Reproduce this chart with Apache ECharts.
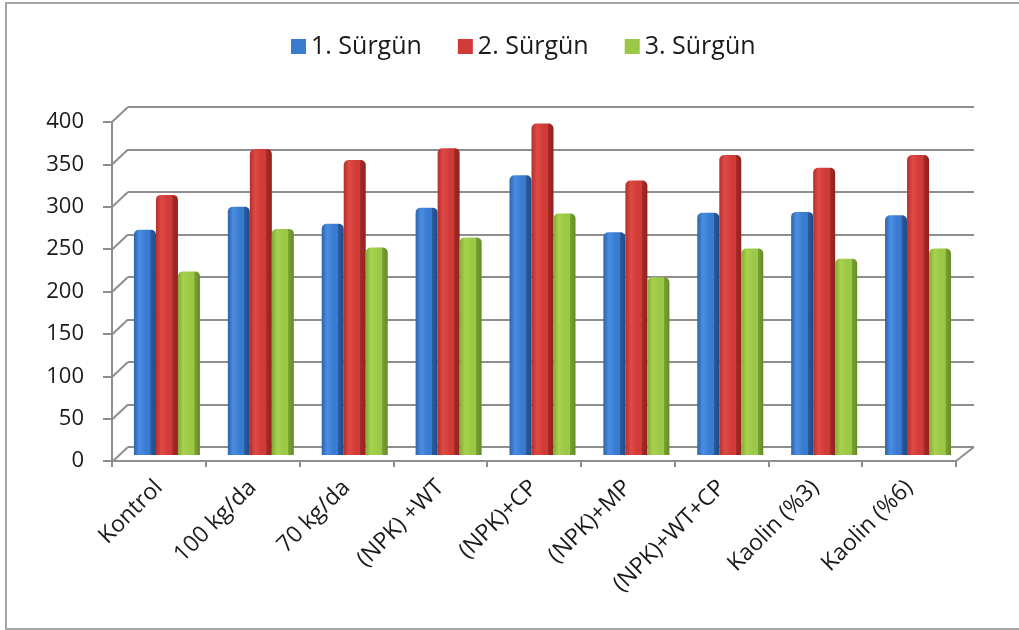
<!DOCTYPE html>
<html>
<head>
<meta charset="utf-8">
<script src="https://cdn.jsdelivr.net/npm/echarts@6/dist/echarts.min.js"></script>
<style>
  html, body { margin: 0; padding: 0; background: #fff; }
  #chart { width: 1019px; height: 630px; }
</style>
</head>
<body>
<div id="chart"></div>
<script>
const categories = ['Kontrol', '100 kg/da', '70 kg/da', '(NPK) +WT', '(NPK)+CP', '(NPK)+MP', '(NPK)+WT+CP', 'Kaolin (%3)', 'Kaolin (%6)']
const seriesNames = ['1. Sürgün', '2. Sürgün', '3. Sürgün']
const surgun1 = [265, 292, 272, 291, 329, 262, 285, 286, 282]
const surgun2 = [306, 360, 347, 361, 390, 323, 353, 338, 353]
const surgun3 = [216, 266, 244, 256, 284, 209, 243, 231, 243]
const yTicks = [0, 50, 100, 150, 200, 250, 300, 350, 400]

const FONT = '"Open Sans", "Liberation Sans", sans-serif'
const GRID_GRAY = '#8e8e8e'

// front face light in the middle, darker side face on the right
const barFill = (edge, light, base, side, sideDark) =>
  new echarts.graphic.LinearGradient(0, 0, 1, 0, [
    { offset: 0, color: edge },
    { offset: 0.25, color: light },
    { offset: 0.55, color: base },
    { offset: 0.74, color: base },
    { offset: 0.76, color: side },
    { offset: 1, color: sideDark },
  ])

const fills = [
  barFill('#2d63ad', '#4a8ee2', '#3a7bd2', '#2a5b9f', '#214a85'),
  barFill('#b52f2c', '#df4a45', '#d13b37', '#a82a27', '#8f2220'),
  barFill('#82ab35', '#a8d24f', '#9bc846', '#7aa232', '#658a27'),
]
const legendColors = ['#3a7bd2', '#d13b37', '#9bc846']
const seriesData = [surgun1, surgun2, surgun3]

const chart = echarts.init(document.getElementById('chart'))

// the 3D look: back wall (grid 0), bars at mid depth (grid 1), front axes (grid 2)
const option = {
  animation: false,
  textStyle: { fontFamily: FONT },
  graphic: [
    {
      type: 'rect',
      shape: { x: 6, y: 3, width: 1030, height: 626 },
      style: { fill: 'none', stroke: '#a6a6a6', lineWidth: 2 },
      silent: true,
    },
  ],
  legend: {
    left: 286,
    top: 29,
    itemWidth: 15,
    itemHeight: 15,
    itemGap: 36,
    textStyle: { fontFamily: FONT, fontSize: 25, color: '#1a1a1a' },
    data: seriesNames.map((n, i) => ({ name: n, icon: 'rect', itemStyle: { color: legendColors[i] } })),
  },
  grid: [
    { left: 128, right: 45, top: 107, bottom: 183 },
    { left: 120, right: 54, top: 115, bottom: 175 },
    { left: 112, right: 63, top: 122, bottom: 169 },
  ],
  xAxis: [
    { gridIndex: 0, type: 'category', data: categories, show: false },
    { gridIndex: 1, type: 'category', data: categories, show: false },
    {
      gridIndex: 2,
      type: 'category',
      data: categories,
      axisLine: { lineStyle: { color: GRID_GRAY, width: 2 } },
      axisTick: { show: true, length: 6, lineStyle: { color: GRID_GRAY, width: 2 } },
      axisLabel: { rotate: 45, margin: 23, fontSize: 23, fontFamily: FONT, color: '#1a1a1a' },
    },
  ],
  yAxis: [
    {
      gridIndex: 0,
      type: 'value',
      min: 0,
      max: 400,
      interval: 50,
      axisLine: { show: false },
      axisTick: { show: false },
      axisLabel: { show: false },
      splitLine: { show: true, lineStyle: { color: GRID_GRAY, width: 2 } },
    },
    { gridIndex: 1, type: 'value', min: 0, max: 400, interval: 50, show: false, splitLine: { show: false } },
    {
      gridIndex: 2,
      type: 'value',
      min: 0,
      max: 400,
      interval: 50,
      axisLine: { show: true, lineStyle: { color: GRID_GRAY, width: 2 } },
      axisTick: { show: true, length: 9, lineStyle: { color: GRID_GRAY, width: 2 } },
      axisLabel: { margin: 28, fontSize: 22, fontFamily: FONT, color: '#1a1a1a' },
      splitLine: { show: false },
    },
  ],
  series: [
    {
      type: 'custom',
      xAxisIndex: 0,
      yAxisIndex: 0,
      silent: true,
      z: 1,
      data: yTicks.map((v) => [0, v]),
      renderItem: (params, api) => {
        const cs = params.coordSys
        const y = api.coord([0, api.value(1)])[1]
        const style = { stroke: GRID_GRAY, lineWidth: 2 }
        const children = [
          { type: 'line', shape: { x1: cs.x, y1: y, x2: cs.x - 16, y2: y + 15 }, style },
        ]
        if (api.value(1) === 0) {
          children.push({
            type: 'line',
            shape: { x1: cs.x + cs.width, y1: y, x2: cs.x + cs.width - 18, y2: y + 14 },
            style,
          })
        }
        return { type: 'group', children }
      },
    },
    ...seriesNames.map((name, i) => ({
      name,
      type: 'bar',
      xAxisIndex: 1,
      yAxisIndex: 1,
      z: 3,
      barWidth: 22,
      barGap: '0%',
      data: seriesData[i],
      itemStyle: { color: fills[i], borderRadius: [5, 5, 0, 0] },
      emphasis: { disabled: true },
    })),
  ],
}

chart.setOption(option)
</script>
</body>
</html>
